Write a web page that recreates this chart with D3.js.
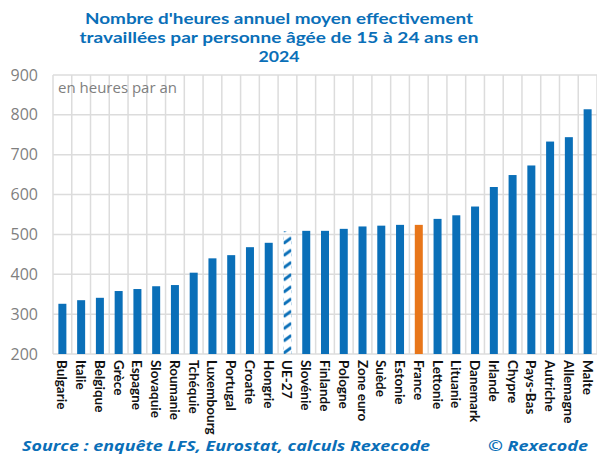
<!DOCTYPE html>
<html>
<head>
<meta charset="utf-8">
<script src="https://cdn.jsdelivr.net/npm/d3@7"></script>
<style>
  body { margin: 0; background: #fff; }
  svg { display: block; font-family: "Open Sans", Lato, sans-serif; }
</style>
</head>
<body>
<div id="chart"></div>
<script>
let countries = ['Bulgarie', 'Italie', 'Belgique', 'Grèce', 'Espagne', 'Slovaquie', 'Roumanie', 'Tchéquie',
  'Luxembourg', 'Portugal', 'Croatie', 'Hongrie', 'UE-27', 'Slovénie', 'Finlande', 'Pologne', 'Zone euro',
  'Suède', 'Estonie', 'France', 'Lettonie', 'Lituanie', 'Danemark', 'Irlande', 'Chypre', 'Pays-Bas',
  'Autriche', 'Allemagne', 'Malte']
let hours = [326, 335, 341, 358, 363, 370, 373, 404, 440, 448, 468, 479, 508, 509, 509, 514, 520,
  522, 524, 524, 539, 548, 570, 619, 649, 673, 733, 744, 814]
let yTicks = [200, 300, 400, 500, 600, 700, 800, 900]
let title = ["Nombre d'heures annuel moyen effectivement", 'travaillées par personne âgée de 15 à 24 ans en', '2024']
let titleWidths = [388, 399, 41]

let W = 597, H = 454
let margin = {top: 75, right: 0, bottom: 100, left: 53},
  width = W - margin.left - margin.right,
  height = H - margin.top - margin.bottom

let blue = '#0a6fb8', orange = '#e8761a', grid = '#dcdcdc'

let svg = d3.select('#chart').append('svg')
  .attr('width', W)
  .attr('height', H)

let x = d3.scaleBand()
  .domain(countries)
  .range([0, width])

let y = d3.scaleLinear()
  .domain([200, 900])
  .range([height, 0])

let barW = 8

// hatch for UE-27, lined up on its bar
let pat = svg.append('defs').append('pattern')
  .attr('id', 'hatch')
  .attr('patternUnits', 'userSpaceOnUse')
  .attr('x', x('UE-27') + x.bandwidth() / 2 - barW / 2)
  .attr('y', 1)
  .attr('width', barW)
  .attr('height', 12.2)
pat.append('path')
  .attr('d', 'M0,9 L8,3')
  .attr('stroke', blue)
  .attr('stroke-width', 3)

// title (wide font in the original, so stretch to its measured width)
svg.append('g').selectAll('text')
  .data(title)
  .enter().append('text')
  .attr('x', 279)
  .attr('y', function (d, i) { return 24 + i * 19 })
  .attr('text-anchor', 'middle')
  .attr('fill', blue)
  .attr('font-family', 'Lato, sans-serif')
  .attr('font-size', 15.5)
  .attr('font-weight', 'bold')
  .attr('textLength', function (d, i) { return titleWidths[i] })
  .attr('lengthAdjust', 'spacingAndGlyphs')
  .text(function (d) { return d })

let g = svg.append('g')
  .attr('transform', 'translate(' + margin.left + ',' + margin.top + ')')

// grid
g.append('g').selectAll('line')
  .data(yTicks)
  .enter().append('line')
  .attr('x1', 0)
  .attr('x2', width)
  .attr('y1', function (d) { return y(d) })
  .attr('y2', function (d) { return y(d) })
  .attr('stroke', grid)
  .attr('stroke-width', 1.5)

g.append('g').selectAll('line')
  .data(d3.range(countries.length + 1))
  .enter().append('line')
  .attr('x1', function (i) { return i * x.step() })
  .attr('x2', function (i) { return i * x.step() })
  .attr('y1', 0)
  .attr('y2', height)
  .attr('stroke', grid)
  .attr('stroke-width', 1.5)

// y labels
g.append('g').selectAll('text')
  .data(yTicks)
  .enter().append('text')
  .attr('x', -15)
  .attr('y', function (d) { return y(d) })
  .attr('dy', '0.35em')
  .attr('text-anchor', 'end')
  .attr('fill', '#7f7f7f')
  .attr('font-size', 16)
  .text(function (d) { return d })

g.append('text')
  .attr('x', 5)
  .attr('y', 18)
  .attr('fill', '#7f7f7f')
  .attr('font-size', 15)
  .text('en heures par an')

// bars
g.append('g').selectAll('rect')
  .data(countries)
  .enter().append('rect')
  .attr('x', function (d) { return x(d) + x.bandwidth() / 2 - barW / 2 })
  .attr('y', function (d, i) { return y(hours[i]) })
  .attr('width', barW)
  .attr('height', function (d, i) { return height - y(hours[i]) })
  .attr('fill', function (d) {
    if (d === 'France') return orange
    if (d === 'UE-27') return 'url(#hatch)'
    return blue
  })

// x labels
g.append('g').selectAll('text')
  .data(countries)
  .enter().append('text')
  .attr('transform', function (d) {
    return 'translate(' + (x(d) + x.bandwidth() / 2 - 5) + ',' + (height + 6) + ') rotate(90)'
  })
  .attr('text-anchor', 'start')
  .attr('font-family', 'Lato, sans-serif')
  .attr('font-size', 13.5)
  .attr('font-weight', 'bold')
  .attr('fill', '#111')
  .text(function (d) { return d })

// footer
svg.append('text')
  .attr('x', 22)
  .attr('y', 451)
  .attr('fill', blue)
  .attr('font-size', 15)
  .attr('font-style', 'italic')
  .attr('font-weight', 'bold')
  .attr('textLength', 408)
  .attr('lengthAdjust', 'spacingAndGlyphs')
  .text('Source : enquête LFS, Eurostat, calculs Rexecode')

svg.append('text')
  .attr('x', 488)
  .attr('y', 451)
  .attr('fill', blue)
  .attr('font-size', 15)
  .attr('font-style', 'italic')
  .attr('font-weight', 'bold')
  .attr('textLength', 100)
  .attr('lengthAdjust', 'spacingAndGlyphs')
  .text('© Rexecode')
</script>
</body>
</html>
